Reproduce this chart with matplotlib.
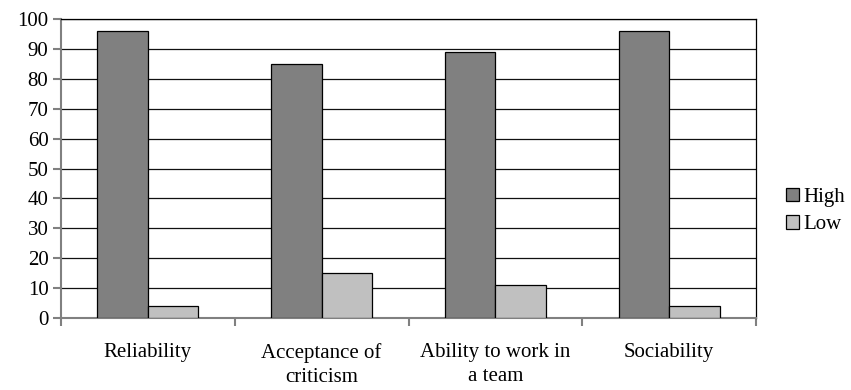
import numpy as np
import matplotlib.pyplot as plt

categories = ["Reliability", "Acceptance of\ncriticism", "Ability to work in\na team", "Sociability"]
high = [96, 85, 89, 96]
low = [4, 15, 11, 4]

plt.rcParams['font.family'] = ['Liberation Serif', 'DejaVu Serif']
plt.rcParams['font.size'] = 15

fig = plt.figure(figsize=(8.51, 3.9), dpi=100)
ax = fig.add_axes([61 / 851, 1 - 318 / 390, 695 / 851, 299 / 390])

x = np.arange(len(categories))
w = 0.29
ax.bar(x - w / 2, high, w, color='#808080', edgecolor='black', linewidth=0.9, label='High', zorder=3)
ax.bar(x + w / 2, low, w, color='#c0c0c0', edgecolor='black', linewidth=0.9, label='Low', zorder=3)

ax.set_xlim(-0.5, len(categories) - 0.5)
ax.set_ylim(0, 100)
ax.set_yticks(range(0, 101, 10))
ax.yaxis.grid(True, color='#111111', linewidth=0.9, zorder=0)
ax.set_axisbelow(True)

# category labels sit between the boundary ticks
ax.set_xticks(np.arange(-0.5, len(categories), 1))
ax.set_xticklabels([])
ax.set_xticks(x, minor=True)
ax.set_xticklabels(categories, minor=True, linespacing=1.35)
ax.tick_params(axis='x', which='minor', length=0, pad=18)
ax.tick_params(axis='x', which='major', length=5.5, width=1.5, color='#808080', direction='out')
ax.tick_params(axis='y', length=6, width=1.5, color='#808080', direction='out', pad=3)

for side in ['left', 'bottom']:
    ax.spines[side].set_color('#808080')
    ax.spines[side].set_linewidth(1.5)
for side in ['top', 'right']:
    ax.spines[side].set_color('black')
    ax.spines[side].set_linewidth(0.9)

ax.legend(loc='center left', bbox_to_anchor=(786 / 851, 1 - 211 / 390),
          bbox_transform=fig.transFigure, frameon=False, borderpad=0,
          borderaxespad=0, handlelength=0.62, handleheight=0.62,
          handletextpad=0.2, labelspacing=0.42)

fig.savefig('out.png', dpi=100)
